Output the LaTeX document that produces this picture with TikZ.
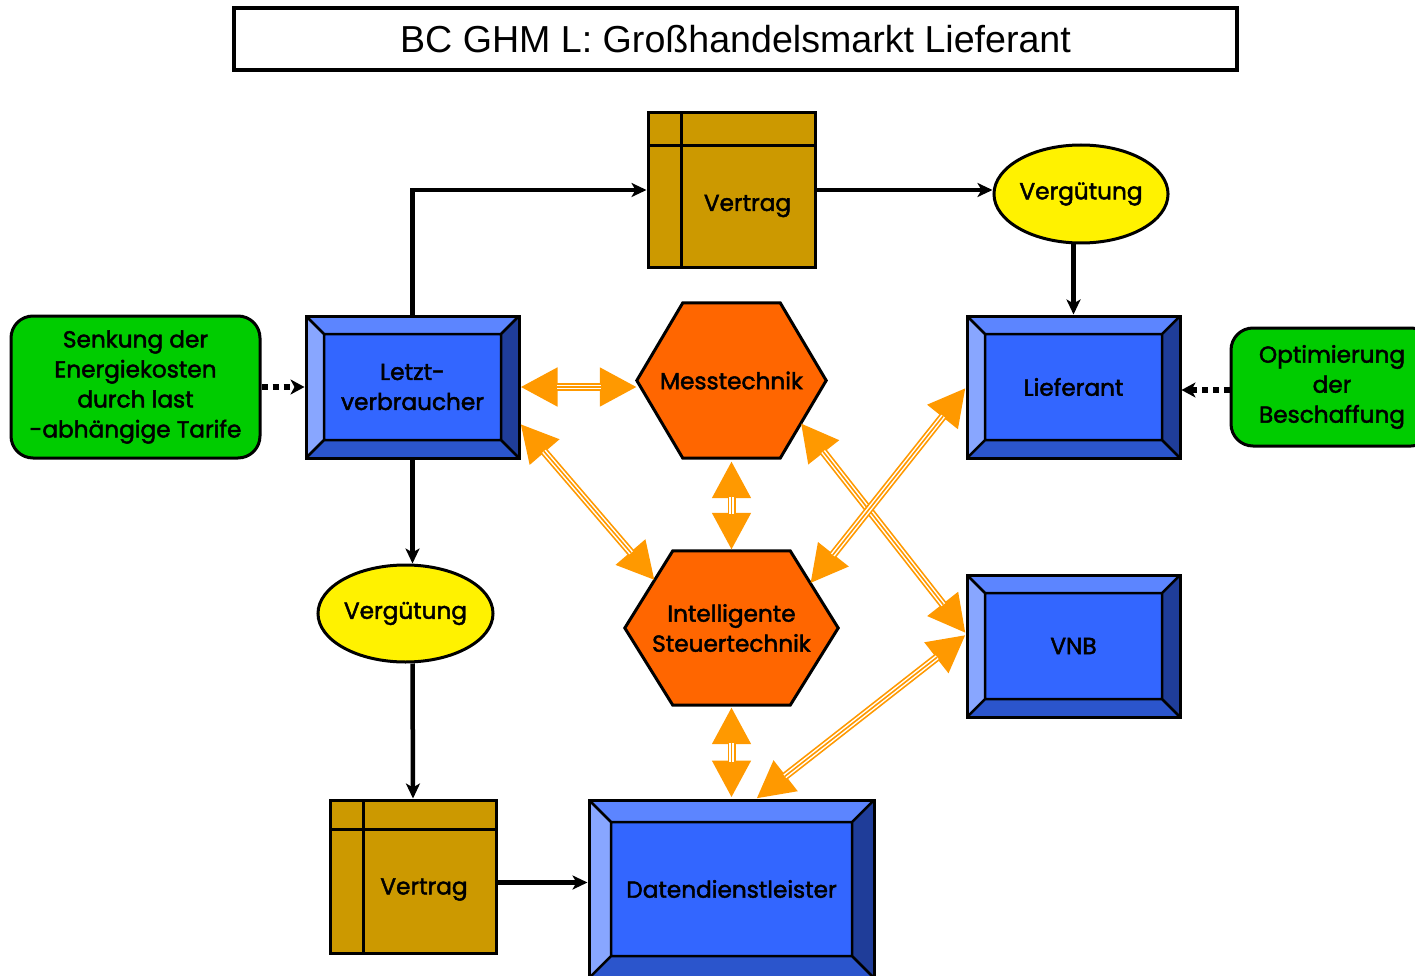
\documentclass[tikz,border=0pt]{standalone}
\usepackage{fontspec}
\setmainfont{Liberation Sans}
\newfontfamily\gfont{Poppins}[FakeBold=2]
\usetikzlibrary{arrows.meta,calc,backgrounds,shapes.geometric}
\definecolor{bcen}{HTML}{3366FF}
\definecolor{btop}{HTML}{5C85FF}
\definecolor{bleft}{HTML}{88A6FF}
\definecolor{bright}{HTML}{1F3D99}
\definecolor{bbot}{HTML}{2B55CC}
\definecolor{gold}{HTML}{CC9900}
\definecolor{hexor}{HTML}{FF6600}
\definecolor{arror}{HTML}{FF9900}
\definecolor{grn}{HTML}{00CC00}
\tikzset{
  gtext/.style={font=\gfont\fontsize{23.2}{30}\selectfont, align=center, text=black},
  bevel/.style={rectangle, draw=black, line width=3pt, fill=bcen, inner sep=0pt, gtext,
    path picture={
      \coordinate (bvNW) at (path picture bounding box.north west);
      \coordinate (bvNE) at (path picture bounding box.north east);
      \coordinate (bvSW) at (path picture bounding box.south west);
      \coordinate (bvSE) at (path picture bounding box.south east);
      \coordinate (bvINW) at ([shift={(#1pt,-#1pt)}]bvNW);
      \coordinate (bvINE) at ([shift={(-#1pt,-#1pt)}]bvNE);
      \coordinate (bvISW) at ([shift={(#1pt,#1pt)}]bvSW);
      \coordinate (bvISE) at ([shift={(-#1pt,#1pt)}]bvSE);
      \fill[btop] (bvNW) -- (bvNE) -- (bvINE) -- (bvINW) -- cycle;
      \fill[bleft] (bvNW) -- (bvINW) -- (bvISW) -- (bvSW) -- cycle;
      \fill[bright] (bvNE) -- (bvSE) -- (bvISE) -- (bvINE) -- cycle;
      \fill[bbot] (bvSW) -- (bvISW) -- (bvISE) -- (bvSE) -- cycle;
      \draw[black, line width=2.5pt] (bvINW) rectangle (bvISE)
        (bvNW) -- (bvINW) (bvNE) -- (bvINE) (bvSW) -- (bvISW) (bvSE) -- (bvISE);
    }},
  bevel/.default=18,
  vertragbox/.style={rectangle, draw=black, line width=3pt, fill=gold, inner sep=0pt,
    path picture={
      \draw[black, line width=3pt]
        ([xshift=33pt]path picture bounding box.north west) -- ([xshift=33pt]path picture bounding box.south west)
        ([yshift=-#1pt]path picture bounding box.north west) -- ([yshift=-#1pt]path picture bounding box.north east);
    }},
  vertragbox/.default=33,
  greenbox/.style={rectangle, rounded corners=22pt, draw=black, line width=3pt, fill=grn, inner sep=0pt, gtext},
  oval/.style={ellipse, draw=black, line width=3pt, fill=yellow, inner sep=0pt, gtext},
  hexnode/.style={rectangle, inner sep=0pt, gtext},
  hexfill/.style={draw=black, line width=3pt, fill=hexor, line join=miter},
  conn/.style={draw=black, line width=4.5pt, -{Stealth[length=15pt,width=14pt,inset=4pt]}},
  dotconn/.style={draw=black, line width=5.5pt, dash pattern=on 6pt off 5pt, -{Stealth[length=14pt,width=15pt,inset=4pt]}},
}
\newcommand\oarr[2]{%
  \draw[arror, line width=8pt, {Triangle[length=37pt,width=37pt]}-{Triangle[length=37pt,width=37pt]}] #1 -- #2;
  \draw[white, line width=4.6pt, shorten <=36pt, shorten >=36pt] #1 -- #2;
  \draw[arror, line width=1.6pt, shorten <=36pt, shorten >=36pt] #1 -- #2;}
\begin{document}
\begin{tikzpicture}[x=1pt,y=-1pt]
\useasboundingbox (0,0) rectangle (1415,976);
\clip (0,0) rectangle (1415,976);

% title
\node[draw=black, line width=3.5pt, minimum width=1003pt, minimum height=62pt, inner sep=0pt,
  font=\fontsize{37.6}{40}\selectfont] (title) at (735.5,39) {BC GHM L: Großhandelsmarkt Lieferant};

% hexagons (drawn first, text nodes on top)
\node[hexnode, minimum width=189pt, minimum height=155pt] (mess) at (731.5,380.5) {};
\node[hexnode, minimum width=213pt, minimum height=154pt] (int) at (731.5,628) {};
\draw[hexfill] (mess.west) -- ([xshift=46pt]mess.north west) -- ([xshift=-46pt]mess.north east)
  -- (mess.east) -- ([xshift=-46pt]mess.south east) -- ([xshift=46pt]mess.south west) -- cycle;
\draw[hexfill] (int.west) -- ([xshift=48pt]int.north west) -- ([xshift=-48pt]int.north east)
  -- (int.east) -- ([xshift=-48pt]int.south east) -- ([xshift=48pt]int.south west) -- cycle;
\node[gtext] (messtxt) at (mess.center) {Messtechnik};
\node[gtext] (inttxt) at (int.center) {Intelligente\\Steuertechnik};
\coordinate (intTL) at ([xshift=48pt]int.north west);
\coordinate (intTR) at ([xshift=-48pt]int.north east);
\coordinate (messBR) at ([xshift=-46pt]mess.south east);

% nodes
\node[vertragbox, minimum width=167pt, minimum height=154pt] (vtop) at (731.5,190) {};
\node[gtext] (vtoptxt) at ($(vtop.center)+(16,16)$) {Vertrag};
\node[oval, minimum width=174pt, minimum height=98pt] (vt) at (1081,194) {Vergütung};
\node[bevel, minimum width=213pt, minimum height=142pt] (lief) at (1073.5,387) {Lieferant};
\node[greenbox, minimum width=202pt, minimum height=118pt] (opt) at (1332,387) {Optimierung\\der\\Beschaffung};
\node[bevel, minimum width=213pt, minimum height=142pt] (lv) at (412.5,387) {Letzt-\\verbraucher};
\node[greenbox, minimum width=249pt, minimum height=142pt] (senk) at (135.5,387) {Senkung der\\Energiekosten\\durch last\\-abhängige Tarife};
\node[bevel, minimum width=213pt, minimum height=142pt] (vnb) at (1073.5,646) {VNB};
\node[oval, minimum width=175pt, minimum height=97pt] (vb) at (405.5,613.5) {Vergütung};
\node[vertragbox=29, minimum width=166pt, minimum height=153pt] (vbot) at (413,876.5) {};
\node[gtext] (vbottxt) at ($(vbot.center)+(11,13)$) {Vertrag};
\node[bevel=22, minimum width=285pt, minimum height=178pt] (dd) at (731.5,889) {Datendienstleister};

% black connectors
\draw[conn] (lv.north) -- (lv.north |- vtop.west) -- (vtop.west);
\draw[conn] (vtop.east) -- (vtop.east -| vt.west);
\draw[conn] (lief.north |- vt.south) -- (lief.north);
\draw[conn] (lv.south) -- (lv.south |- vb.north);
\draw[conn] (lv.south |- vb.south) -- (vbot.north);
\draw[conn] ([yshift=-6pt]vbot.east) -- ([yshift=-6pt]vbot.east -| dd.west);
\draw[dotconn] (senk.east) -- (lv.west);
\draw[dotconn] ([yshift=-3pt]opt.west) -- ([yshift=-3pt]opt.west -| lief.east);

% orange double arrows
\oarr{(lv.east)}{(lv.east -| mess.west)}
\oarr{([yshift=-37pt]lv.east)}{($(int.west)!0.62!(intTL)$)}
\oarr{([yshift=-3pt]mess.south)}{([yshift=1pt]int.north)}
\oarr{([yshift=-2pt]int.south)}{([yshift=1pt]dd.north)}
\oarr{($(mess.east)!0.55!(messBR)$)}{([yshift=13pt]vnb.west)}
\oarr{([yshift=-1pt]lief.west)}{($(int.east)!0.58!(intTR)$)}
\oarr{([yshift=11pt]vnb.west)}{([xshift=25pt]dd.north)}
\end{tikzpicture}
\end{document}
